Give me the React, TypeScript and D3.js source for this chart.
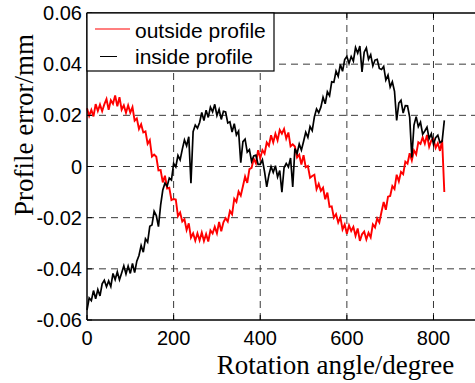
import React from 'react';
import * as d3 from 'd3';

// Sampling step of the rotation angle (degree); values are in micrometres (0.001 mm)
const angleStep = 5;

const outsideProfile = [
  22.8, 19.8, 22.1, 19.6, 24.4, 21.7, 24.2, 21.6, 24.3, 26.4,
  22.2, 25.9, 24.5, 27.8, 23.5, 27.1, 22.2, 23.9, 21.0, 23.9,
  21.1, 23.2, 17.9, 18.8, 14.7, 16.5, 13.3, 13.7, 8.9, 10.3,
  3.9, 4.7, 3.8, -1.5, -1.4, -6.2, -3.6, -8.6, -8.3, -13.1,
  -12.7, -12.9, -19.4, -18.0, -21.5, -20.6, -24.8, -22.2, -27.8, -26.1,
  -29.0, -26.1, -28.9, -25.8, -29.1, -26.4, -29.3, -25.0, -26.2, -23.6,
  -26.1, -21.7, -25.3, -21.8, -20.2, -21.5, -17.4, -18.7, -12.6, -13.8,
  -9.8, -11.4, -7.7, -3.9, -6.4, -1.0, -0.5, 3.0, 1.2, 6.4,
  3.2, 6.4, 5.0, 9.4, 8.1, 12.2, 9.4, 12.8, 10.2, 14.3,
  12.8, 14.7, 10.9, 13.3, 7.9, 8.7, 7.8, 3.5, 4.6, 0.8,
  4.4, -0.3, 0.2, -4.4, -3.7, -3.2, -8.9, -6.8, -9.5, -8.3,
  -12.8, -10.2, -15.8, -15.6, -20.0, -18.6, -21.9, -19.8, -24.6, -22.7,
  -26.3, -23.0, -25.2, -23.6, -27.1, -24.2, -29.1, -26.5, -25.4, -28.5,
  -25.9, -27.7, -22.6, -23.8, -20.3, -21.9, -17.7, -13.9, -16.9, -11.8,
  -11.5, -7.6, -8.8, -3.2, -5.8, -2.1, -3.0, 1.9, 1.1, 5.2,
  2.4, 6.3, 4.7, 9.5, 8.8, 11.4, 8.9, 12.3, 7.7, 10.2,
  10.8, 7.3, 9.1, 6.1, 10.4, -10.0,
];

const insideProfile = [
  -56.1, -51.4, -52.4, -48.5, -51.7, -48.1, -50.6, -45.9, -44.5, -47.0,
  -44.7, -46.9, -41.8, -44.2, -41.2, -44.3, -41.6, -38.8, -42.0, -38.9,
  -41.8, -37.9, -41.5, -37.0, -34.8, -30.9, -33.5, -28.3, -29.6, -23.4,
  -22.9, -17.5, -19.2, -23.5, -15.1, -9.2, -6.5, -7.7, -4.5, -5.3,
  1.2, -0.2, 4.3, 2.6, 6.7, 10.4, 8.1, 11.6, -6.5, 13.6,
  16.2, 15.0, 17.2, 21.1, 18.0, 22.0, 19.2, 23.2, 21.4, 24.3,
  19.9, 22.3, 18.4, 21.6, 21.3, 17.0, 17.5, 13.5, 16.7, 12.3,
  13.8, 1.5, 9.7, 10.7, 5.6, 6.6, 2.0, 4.1, 4.4, 0.8,
  0.8, 2.6, -2.1, -8.0, -3.3, 0.0, -2.3, 0.3, -4.1, -1.6,
  -10.0, -0.5, 1.2, -0.2, 3.3, -8.0, 7.0, 5.1, 8.8, 6.4,
  9.8, 13.4, 11.4, 15.6, 14.0, 19.4, 22.5, 21.0, 23.2, 27.1,
  24.5, 29.2, 27.7, 33.1, 32.9, 37.3, 35.3, 39.9, 37.2, 41.8,
  43.0, 40.3, 43.0, 41.2, 46.5, 44.3, 47.1, 37.0, 44.7, 46.4,
  41.9, 43.7, 39.3, 41.6, 41.9, 38.3, 37.9, 39.1, 33.8, 35.7,
  31.1, 33.1, 29.4, 18.0, 24.8, 25.9, 20.9, 23.8, 23.7, 19.3,
  3.5, 16.2, 19.5, 15.6, 17.3, 12.6, 13.9, 15.4, 10.9, 12.8,
  8.7, 11.3, 12.2, 9.3, 9.9, 18.0,
];

const xTicks = [0, 200, 400, 600, 800];
const yTicks = [-60, -40, -20, 0, 20, 40, 60];
const yTickLabels = ['-0.06', '-0.04', '-0.02', '0', '0.02', '0.04', '0.06'];
const seriesNames = ['outside profile', 'inside profile'];
const seriesColors = ['#ff0000', '#000000'];

const sans = '"Liberation Sans", Arial, Helvetica, sans-serif';
const serif = '"Liberation Serif", "Times New Roman", serif';

export default function App() {
  const W = 475;
  const H = 383;
  const x = d3.scaleLinear().domain([0, 900]).range([87, 476.8]);
  const y = d3.scaleLinear().domain([-60, 60]).range([320, 13]);
  const line = d3
    .line<number>()
    .x((_, i) => x(i * angleStep))
    .y((d) => y(d));

  const left = x(0);
  const bottom = y(-60);
  const top = y(60);

  return (
    <svg
      width={W}
      height={H}
      style={{ position: 'absolute', left: 0, top: 0, background: '#fff' }}
    >
      <rect x={0} y={0} width={W} height={H} fill="#fff" />
      {/* grid */}
      {xTicks
        .filter((t) => t !== 0)
        .map((t) => (
          <line
            key={'gx' + t}
            x1={x(t)}
            x2={x(t)}
            y1={top}
            y2={bottom}
            stroke="#3a3a3a"
            strokeWidth={1}
            strokeDasharray="7,5"
          />
        ))}
      {yTicks
        .filter((t) => t !== -60 && t !== 60)
        .map((t) => (
          <line
            key={'gy' + t}
            x1={left}
            x2={W}
            y1={y(t)}
            y2={y(t)}
            stroke="#3a3a3a"
            strokeWidth={1}
            strokeDasharray="7,5"
          />
        ))}
      {/* data */}
      <path
        d={line(outsideProfile) || ''}
        fill="none"
        stroke={seriesColors[0]}
        strokeWidth={1.9}
        strokeLinejoin="miter"
      />
      <path
        d={line(insideProfile) || ''}
        fill="none"
        stroke={seriesColors[1]}
        strokeWidth={1.7}
        strokeLinejoin="miter"
      />

      {/* axes */}
      <line x1={left} x2={left} y1={top} y2={bottom} stroke="#000" strokeWidth={1.5} />
      <line x1={left} x2={W} y1={bottom} y2={bottom} stroke="#000" strokeWidth={1.5} />
      <line x1={left} x2={W} y1={top} y2={top} stroke="#000" strokeWidth={1.5} />
      {xTicks.map((t) => (
        <g key={'tx' + t}>
          <line x1={x(t)} x2={x(t)} y1={bottom} y2={bottom - 5} stroke="#000" strokeWidth={1} />
          <line x1={x(t)} x2={x(t)} y1={top} y2={top + 5} stroke="#000" strokeWidth={1} />
          <text
            x={x(t)}
            y={345}
            textAnchor="middle"
            fontFamily={sans}
            fontSize={20}
            fill="#000"
          >
            {t}
          </text>
        </g>
      ))}
      {yTicks.map((t, i) => (
        <g key={'ty' + t}>
          <line x1={left} x2={left + 5} y1={y(t)} y2={y(t)} stroke="#000" strokeWidth={1} />
          <text
            x={82}
            y={y(t)}
            dy="0.35em"
            textAnchor="end"
            fontFamily={sans}
            fontSize={20}
            fill="#000"
          >
            {yTickLabels[i]}
          </text>
        </g>
      ))}

      {/* legend */}
      <rect x={87} y={13} width={187} height={58} fill="#fff" stroke="#000" strokeWidth={1.2} />
      <line x1={95} x2={130} y1={29} y2={29} stroke={seriesColors[0]} strokeWidth={1.2} />
      <line x1={100} x2={117} y1={56.5} y2={56.5} stroke={seriesColors[1]} strokeWidth={1} />
      <text x={135} y={37.5} fontFamily={sans} fontSize={21} fill="#000">
        {seriesNames[0]}
      </text>
      <text x={135} y={63.5} fontFamily={sans} fontSize={21} fill="#000">
        {seriesNames[1]}
      </text>

      {/* axis titles */}
      <text x={335.5} y={374} textAnchor="middle" fontFamily={serif} fontSize={27} fill="#000">
        Rotation angle/degree
      </text>
      <text
        transform="translate(33,125) rotate(-90)"
        textAnchor="middle"
        fontFamily={serif}
        fontSize={27}
        fill="#000"
      >
        Profile error/mm
      </text>
    </svg>
  );
}
